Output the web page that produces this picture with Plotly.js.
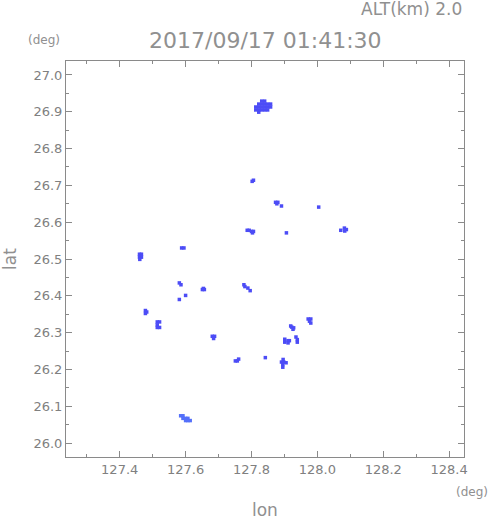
<!DOCTYPE html>
<html>
<head>
<meta charset="utf-8">
<script src="https://cdn.plot.ly/plotly-3.0.1.min.js"></script>
<style>html,body{margin:0;padding:0;background:#fff;}#plot{width:491px;height:521px;}</style>
</head>
<body>
<div id="plot"></div>
<script>
// Echo cell longitudes (deg)
const lon = [
  127.831,127.840,
  127.822,127.831,127.840,127.849,127.858,
  127.813,127.822,127.831,127.840,127.849,127.858,
  127.813,127.822,127.831,127.840,127.849,
  127.822,
  127.802,127.806,
  127.873,127.880,127.877,
  127.891,128.004,
  127.787,127.793,127.800,127.806,127.803,
  127.906,
  128.082,128.088,128.083,128.071,
  127.460,127.466,127.460,127.466,127.461,
  127.588,127.595,
  127.581,127.586,
  127.651,127.657,127.654,
  127.600,127.581,
  127.478,127.478,127.482,
  127.514,127.514,127.514,127.521,127.521,
  127.681,127.688,127.685,
  127.777,127.780,127.789,127.796,
  127.972,127.980,127.976,127.980,
  127.922,127.928,127.926,127.919,
  127.901,127.901,127.911,127.915,127.911,
  127.935,127.939,127.939,
  127.842,
  127.891,127.898,127.905,127.895,127.896,127.895,
  127.751,127.757,127.761,
  127.585,127.592,127.592,127.600,127.607,127.600,127.607,127.614
];
// Echo cell latitudes (deg)
const lat = [
  26.929,26.929,
  26.921,26.921,26.921,26.921,26.921,
  26.913,26.913,26.913,26.913,26.913,26.913,
  26.905,26.905,26.905,26.905,26.905,
  26.899,
  26.711,26.714,
  26.654,26.654,26.650,
  26.644,26.641,
  26.578,26.578,26.575,26.575,26.571,
  26.571,
  26.584,26.580,26.576,26.578,
  26.513,26.513,26.505,26.505,26.499,
  26.530,26.530,
  26.435,26.430,
  26.417,26.417,26.420,
  26.401,26.390,
  26.360,26.352,26.356,
  26.329,26.321,26.314,26.329,26.314,
  26.290,26.290,26.284,
  26.430,26.425,26.421,26.414,
  26.337,26.337,26.331,26.326,
  26.315,26.313,26.309,26.318,
  26.282,26.274,26.278,26.278,26.272,
  26.288,26.281,26.274,
  26.232,
  26.220,26.220,26.218,26.213,26.227,26.206,
  26.223,26.223,26.228,
  26.074,26.074,26.067,26.067,26.067,26.061,26.061,26.061
];
// Echo level per cell (1 = darker blue, 2 = lighter blue)
const level = lon.map((v, i) => (lat[i] < 26.1 ? 2 : 1));
const levelColors = {1: 'rgb(76,76,246)', 2: 'rgb(84,112,250)'};

const xTicks = [127.4, 127.6, 127.8, 128.0, 128.2, 128.4];
const yTicks = [26.0, 26.1, 26.2, 26.3, 26.4, 26.5, 26.6, 26.7, 26.8, 26.9, 27.0];

const gray = '#8a8a8a';
const textGray = '#909090';
const font = 'DejaVu Sans, sans-serif';

const trace = {
  type: 'scatter', mode: 'markers',
  x: lon, y: lat,
  marker: {symbol: 'square', size: 3.5, color: level.map(l => levelColors[l]), line: {width: 0}},
  hoverinfo: 'x+y', showlegend: false
};

const axisCommon = {
  showline: true, linecolor: gray, linewidth: 1, mirror: 'ticks',
  ticks: 'inside', ticklen: 6, tickcolor: gray, tickwidth: 1,
  showgrid: false, zeroline: false,
  tickfont: {family: font, size: 13, color: '#808080'},
  tickformat: '.1f'
};

const layout = {
  width: 491, height: 521,
  margin: {l: 66, r: 27, t: 61, b: 64},
  paper_bgcolor: '#fff', plot_bgcolor: '#fff',
  xaxis: Object.assign({}, axisCommon, {
    range: [127.237, 128.445], tickvals: xTicks,
    minor: {dtick: 0.1, tick0: 127.3, ticks: 'inside', ticklen: 3, tickcolor: gray}
  }),
  yaxis: Object.assign({}, axisCommon, {
    range: [25.962, 27.038], tickvals: yTicks,
    minor: {dtick: 0.05, tick0: 26.05, ticks: 'inside', ticklen: 3, tickcolor: gray}
  }),
  annotations: [
    {text: '2017/09/17 01:41:30', xref: 'paper', yref: 'paper', x: 0.5, y: 1, yshift: 21,
     xanchor: 'center', yanchor: 'middle', showarrow: false, font: {family: font, size: 22, color: textGray}},
    {text: 'ALT(km) 2.0', xref: 'paper', yref: 'paper', x: 1, y: 1, yshift: 52,
     xanchor: 'right', yanchor: 'middle', showarrow: false, font: {family: font, size: 17, color: textGray}},
    {text: '(deg)', xref: 'paper', yref: 'paper', x: 0, y: 1, xshift: -4, yshift: 21,
     xanchor: 'right', yanchor: 'middle', showarrow: false, font: {family: font, size: 12, color: textGray}},
    {text: '(deg)', xref: 'paper', yref: 'paper', x: 1, y: 0, xshift: 26, yshift: -35,
     xanchor: 'right', yanchor: 'middle', showarrow: false, font: {family: font, size: 12, color: textGray}},
    {text: 'lon', xref: 'paper', yref: 'paper', x: 0.5, y: 0, yshift: -53,
     xanchor: 'center', yanchor: 'middle', showarrow: false, font: {family: font, size: 17, color: textGray}},
    {text: 'lat', xref: 'paper', yref: 'paper', x: 0, y: 0.5, xshift: -56, textangle: -90,
     xanchor: 'center', yanchor: 'middle', showarrow: false, font: {family: font, size: 17, color: textGray}}
  ]
};

Plotly.newPlot('plot', [trace], layout, {displayModeBar: false, staticPlot: true});
</script>
</body>
</html>
